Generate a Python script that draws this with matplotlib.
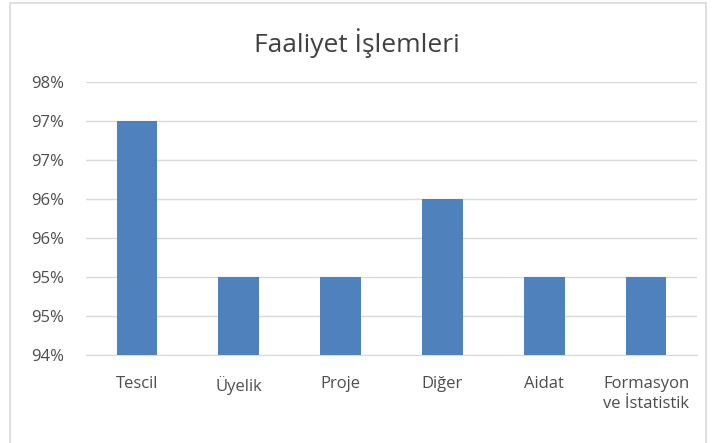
import numpy as np
import matplotlib.pyplot as plt
from matplotlib.patches import Rectangle
from matplotlib.ticker import FuncFormatter

# chart data
categories = ["Tescil", "Üyelik", "Proje", "Diğer", "Aidat", "Formasyon\nve İstatistik"]
values = [97.0, 95.0, 95.0, 96.0, 95.0, 95.0]
y_ticks = [94.0, 94.5, 95.0, 95.5, 96.0, 96.5, 97.0, 97.5]

plt.rcParams['font.family'] = ['Open Sans', 'DejaVu Sans']

fig = plt.figure(figsize=(7.13, 4.43), dpi=100)
ax = fig.add_axes([0.1206, 0.1986, 0.8570, 0.6163])

# outer chart frame
fig.patches.append(Rectangle((10 / 713, -0.05), 696 / 713, 1 - 3 / 443 + 0.05,
                             transform=fig.transFigure, fill=False,
                             edgecolor='#d9d9d9', linewidth=1.2))

x = np.arange(len(categories))
ax.bar(x, values, width=0.4, color='#4f81bd', zorder=3)

ax.set_xlim(-0.5, len(categories) - 0.5)
ax.set_ylim(y_ticks[0], y_ticks[-1])
ax.set_yticks(y_ticks)
ax.yaxis.set_major_formatter(FuncFormatter(lambda v, p: f"{int(np.floor(v + 0.5))}%"))
ax.set_xticks(x)
ax.set_xticklabels(categories, linespacing=1.35)

ax.grid(axis='y', color='#d9d9d9', linewidth=1, zorder=0)
for s in ['top', 'right', 'left']:
    ax.spines[s].set_visible(False)
ax.spines['bottom'].set_color('#d9d9d9')
ax.tick_params(axis='both', length=0, labelsize=12, colors='#4d4d4d')
ax.tick_params(axis='x', pad=15)
ax.tick_params(axis='y', pad=16)

fig.text(0.5, 1 - 43 / 443, "Faaliyet İşlemleri", ha='center', va='center',
         fontsize=19, color='#404040')

fig.savefig('out.png', dpi=100)
